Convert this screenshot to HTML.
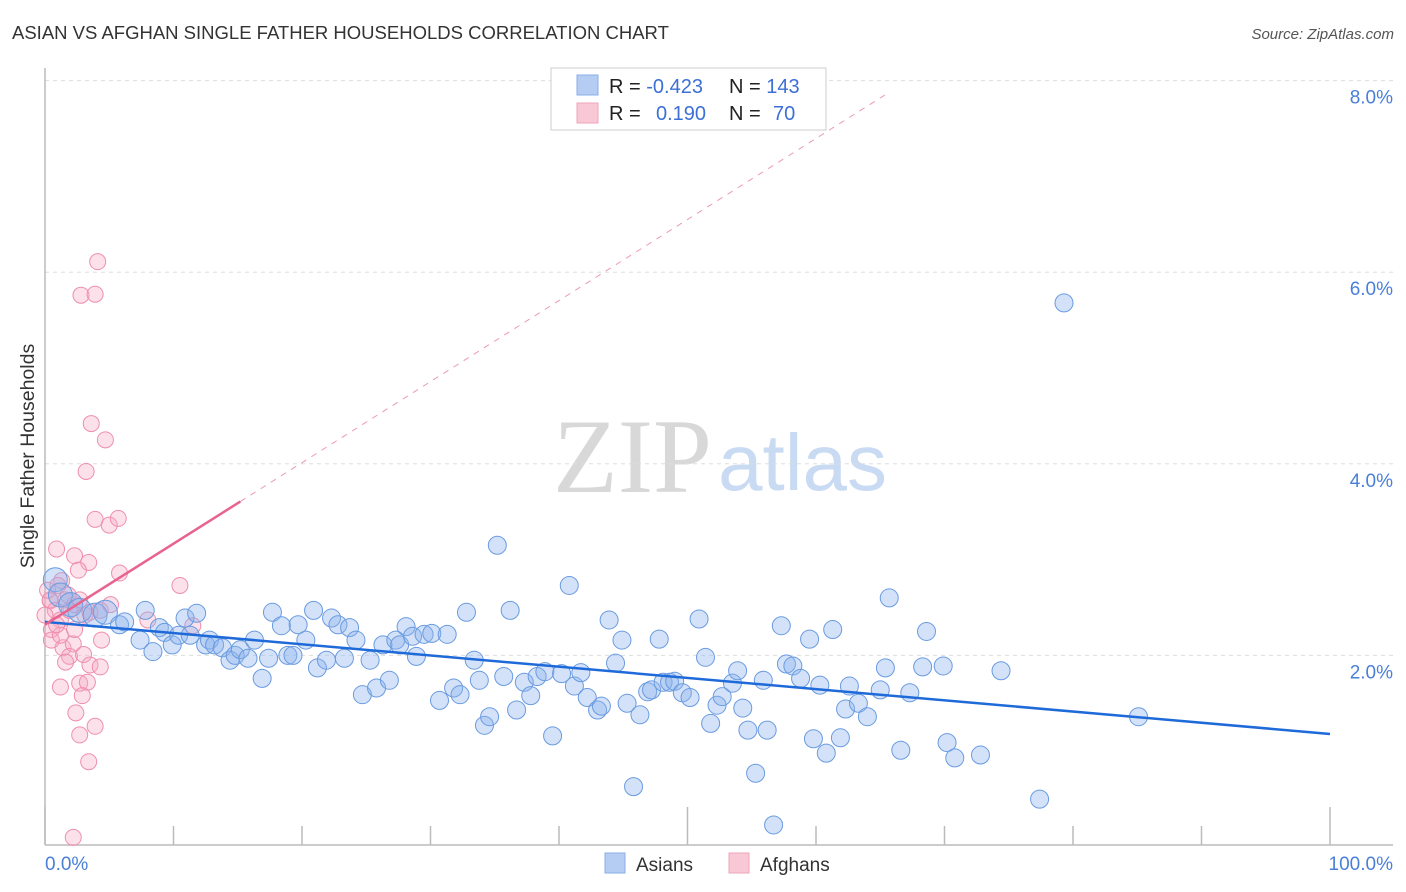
<!DOCTYPE html>
<html><head><meta charset="utf-8">
<style>
body{margin:0;background:#fff;font-family:"Liberation Sans",sans-serif;}
svg{display:block}
</style></head>
<body>
<svg id="chart" width="1406" height="892" viewBox="0 0 1406 892">
  <text x="12" y="39" font-size="18.5" fill="#333">ASIAN VS AFGHAN SINGLE FATHER HOUSEHOLDS CORRELATION CHART</text>
  <text x="1394" y="39" font-size="15" fill="#555" font-style="italic" text-anchor="end">Source: ZipAtlas.com</text>
  <g>
    <text x="553" y="492" font-size="106" font-family="Liberation Serif,serif" fill="#d8d8d8">ZIP</text>
    <text x="718" y="490" font-size="80" fill="#c9daf3">atlas</text>
  </g>
  <g id="grid"></g>
  <g id="axes"></g>
  <g id="series"></g>
  <text transform="translate(34,456) rotate(-90)" font-size="19.5" fill="#333" text-anchor="middle">Single Father Households</text>
  <g>
    <rect x="551" y="68" width="275" height="62" fill="#fff" stroke="#ccc"/>
    <rect x="577" y="75" width="21" height="20" fill="#b5cdf3" stroke="#89aee8"/>
    <rect x="577" y="103" width="21" height="20" fill="#f9c8d6" stroke="#eea6bb"/>
    <text x="609" y="93" font-size="20" fill="#222">R = <tspan fill="#3c70d6">-0.423</tspan><tspan x="729">N = </tspan><tspan fill="#3c70d6">143</tspan></text>
    <text x="609" y="120" font-size="20" fill="#222">R = <tspan x="656" fill="#3c70d6">0.190</tspan><tspan x="729">N = </tspan><tspan x="773" fill="#3c70d6">70</tspan></text>
  </g>
  <g>
    <rect x="605" y="853" width="20" height="20" fill="#b5cdf3" stroke="#89aee8"/>
    <text x="636" y="871" font-size="19" fill="#333">Asians</text>
    <rect x="729" y="853" width="20" height="20" fill="#f9c8d6" stroke="#eea6bb"/>
    <text x="760" y="871" font-size="19" fill="#333">Afghans</text>
  </g>
</svg>
<script>
const yTicks=[2,4,6,8];
const yTickLabels=["2.0%","4.0%","6.0%","8.0%"];
const xTickLabels=["0.0%","100.0%"];
const asianX=[0.8,1.2,2.0,2.7,3.9,4.7,5.8,6.2,7.4,7.8,8.4,8.9,9.3,9.9,10.4,10.9,11.3,11.8,12.5,12.8,13.2,13.8,14.4,14.8,15.2,15.8,16.3,16.9,17.4,17.7,18.4,18.9,19.3,19.7,20.3,20.9,21.2,21.9,22.3,22.8,23.3,23.7,24.2,24.7,25.3,25.8,26.3,26.8,27.3,27.6,28.1,28.6,28.9,29.5,30.1,30.7,31.3,31.8,32.3,32.8,33.4,33.8,34.2,34.6,35.2,35.7,36.2,36.7,37.3,37.8,38.3,38.9,39.5,40.2,40.8,41.2,41.7,42.2,43.0,43.3,43.9,44.4,44.9,45.3,45.8,46.3,46.9,47.2,47.8,48.1,48.6,49.0,49.6,50.2,50.9,51.4,51.8,52.3,52.7,53.5,53.9,54.3,54.7,55.3,55.9,56.2,56.7,57.3,57.7,58.2,58.8,59.5,59.8,60.3,60.8,61.3,61.9,62.3,62.6,63.3,64.0,65.0,65.4,65.7,66.6,67.3,68.3,68.6,69.9,70.2,70.8,72.8,74.4,77.4,79.3,85.1];
const asianY=[2.79,2.63,2.53,2.47,2.42,2.45,2.32,2.35,2.16,2.47,2.04,2.29,2.24,2.11,2.21,2.39,2.21,2.44,2.11,2.16,2.11,2.08,1.95,2.00,2.06,1.97,2.16,1.76,1.97,2.45,2.31,2.00,2.00,2.32,2.16,2.47,1.87,1.95,2.39,2.32,1.97,2.29,2.16,1.59,1.95,1.66,2.11,1.74,2.16,2.11,2.30,2.20,1.99,2.22,2.23,1.53,2.22,1.66,1.59,2.45,1.95,1.74,1.27,1.36,3.15,1.78,2.47,1.43,1.72,1.58,1.78,1.83,1.16,1.81,2.73,1.68,1.82,1.56,1.43,1.47,2.37,1.92,2.16,1.50,0.63,1.38,1.62,1.64,2.17,1.72,1.72,1.73,1.61,1.56,2.38,1.98,1.29,1.48,1.57,1.71,1.84,1.45,1.22,0.77,1.74,1.22,0.23,2.31,1.91,1.89,1.76,2.17,1.13,1.69,0.98,2.27,1.14,1.44,1.68,1.50,1.36,1.64,1.87,2.60,1.01,1.61,1.88,2.25,1.89,1.09,0.93,0.96,1.84,0.50,5.68,1.36];
const afghanX=[4.1,2.8,3.9,3.6,4.7,3.2,3.9,5.0,5.7,0.9,2.3,3.4,2.6,5.8,10.5,1.3,0.4,8.0,11.5,4.4,1.4,2.2,1.9,3.0,1.6,3.5,4.3,2.7,1.2,3.3,2.9,2.4,3.9,2.7,3.4,2.2,0.4,0.8,1.2,0.5,1.6,1.9,2.3,0.2,1.0,1.8,2.7,3.1,3.5,0.5,1.2,2.3,4.3,5.1,0.9,0.0];
const afghanY=[6.11,5.76,5.77,4.42,4.25,3.92,3.42,3.36,3.43,3.11,3.04,2.97,2.89,2.86,2.73,2.78,2.57,2.37,2.31,2.16,2.08,2.12,1.99,2.01,1.93,1.90,1.88,1.71,1.67,1.72,1.58,1.40,1.26,1.17,0.89,0.10,2.58,2.47,2.37,2.27,2.58,2.47,2.53,2.68,2.73,2.63,2.58,2.42,2.45,2.16,2.21,2.27,2.47,2.53,2.32,2.42];
const asianTrend=[2.35,1.18];   // y at x=0 and x=100
const afghanTrend=[2.32,0.0846]; // intercept, slope per %
const afghanSolidEnd=15.2, afghanDashEnd=65.4;

const X0=45,X1=1330,Y0=847,PXY=95.8;
const sx=v=>X0+(X1-X0)*v/100;
const sy=v=>Y0-v*PXY;
const NS="http://www.w3.org/2000/svg";
function mk(tag,attrs,parent){const e=document.createElementNS(NS,tag);for(const k in attrs)e.setAttribute(k,attrs[k]);parent.appendChild(e);return e;}
const grid=document.getElementById('grid'),axes=document.getElementById('axes'),ser=document.getElementById('series');
yTicks.forEach((t,i)=>{
  const g=mk('line',{x1:45,x2:1393,y1:sy(t),y2:sy(t),stroke:'#ddd','stroke-dasharray':'4,4'},grid);
  
  
  const tx=mk('text',{x:1393,y:sy(t)+23,'font-size':19,fill:'#4a7fd8','text-anchor':'end'},axes);
  tx.textContent=yTickLabels[i];
  
  
});
const ax=mk('line',{x1:45,x2:1393,y1:845,y2:845,stroke:'#bbb','stroke-width':1.5},axes);


const ay=mk('line',{x1:45,x2:45,y1:68,y2:845,stroke:'#bbb','stroke-width':1.5},axes);


for(let i=0;i<=10;i++){
  const x=sx(i*10);const long=(i===0||i===5||i===10);
  const tk=mk('line',{x1:x,x2:x,y1:long?807:826,y2:845,stroke:'#bbb','stroke-width':1.5},axes);
  
  
}
[[0,'start',45],[100,'end',1393]].forEach((d,i)=>{
  const t=mk('text',{x:d[2],y:870,'font-size':19,fill:'#4a7fd8','text-anchor':d[1]},axes);
  t.textContent=xTickLabels[i];
  
  
});
afghanX.forEach((v,i)=>{
  const c=mk('circle',{cx:sx(v),cy:sy(afghanY[i]),r:8,fill:'rgba(246,170,195,0.35)',stroke:'#ee8fae','stroke-width':1},ser);
  
  
});
asianX.forEach((v,i)=>{
  const c=mk('circle',{cx:sx(v),cy:sy(asianY[i]),r:i<6?12:9,fill:'rgba(140,180,236,0.38)',stroke:'#6a9be0','stroke-width':1},ser);
  
  
});
const bl=mk('line',{x1:sx(0),y1:sy(asianTrend[0]),x2:sx(100),y2:sy(asianTrend[1]),stroke:'#1f6ad9','stroke-width':2.5},ser);


const pf=x=>afghanTrend[0]+afghanTrend[1]*x;
const pd=mk('line',{x1:sx(afghanSolidEnd),y1:sy(pf(afghanSolidEnd)),x2:sx(afghanDashEnd),y2:sy(pf(afghanDashEnd)),stroke:'#ec9ab4','stroke-width':1,'stroke-dasharray':'6,6'},ser);


const pl=mk('line',{x1:sx(0),y1:sy(pf(0)),x2:sx(afghanSolidEnd),y2:sy(pf(afghanSolidEnd)),stroke:'#e8638f','stroke-width':2.5},ser);


</script>
</body></html>
